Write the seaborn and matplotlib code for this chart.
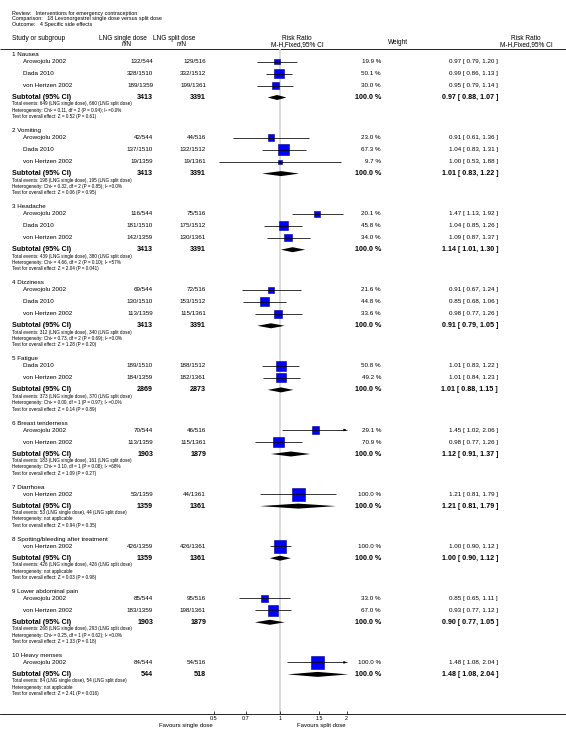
import numpy as np
import pandas as pd
import matplotlib
matplotlib.use("Agg")
import matplotlib.pyplot as plt
import seaborn as sns

sns.set_theme(style="white")
plt.rcParams["font.family"] = ["Liberation Sans", "DejaVu Sans"]

# ---------------- data ----------------
title_lines = [
    "Review:   Interventions for emergency contraception",
    "Comparison:   18 Levonorgestrel single dose versus split dose",
    "Outcome:   4 Specific side effects",
]
groups = ["1 Nausea", "2 Vomiting", "3 Headache", "4 Dizziness", "5 Fatigue",
          "6 Breast tenderness", "7 Diarrhoea", "8 Spotting/bleeding after treatment",
          "9 Lower abdominal pain", "10 Heavy menses"]
study_group = [0, 0, 0, 1, 1, 1, 2, 2, 2, 3, 3, 3, 4, 4, 5, 5, 6, 7, 8, 8, 9]
study_names = ["Arowojolu 2002", "Dada 2010", "von Hertzen 2002",
               "Arowojolu 2002", "Dada 2010", "von Hertzen 2002",
               "Arowojolu 2002", "Dada 2010", "von Hertzen 2002",
               "Arowojolu 2002", "Dada 2010", "von Hertzen 2002",
               "Dada 2010", "von Hertzen 2002",
               "Arowojolu 2002", "von Hertzen 2002",
               "von Hertzen 2002",
               "von Hertzen 2002",
               "Arowojolu 2002", "von Hertzen 2002",
               "Arowojolu 2002"]
single_events = [132, 328, 189, 42, 137, 19, 116, 181, 142, 69, 130, 113, 189, 184, 70, 113, 53, 426, 85, 183, 84]
single_total = [544, 1510, 1359, 544, 1510, 1359, 544, 1510, 1359, 544, 1510, 1359, 1510, 1359, 544, 1359, 1359, 1359, 544, 1359, 544]
split_events = [129, 332, 199, 44, 132, 19, 75, 175, 130, 72, 153, 115, 188, 182, 46, 115, 44, 426, 95, 198, 54]
split_total = [516, 1512, 1361, 516, 1512, 1361, 516, 1512, 1361, 516, 1512, 1361, 1512, 1361, 516, 1361, 1361, 1361, 516, 1361, 516]
weights = [19.9, 50.1, 30.0, 23.0, 67.3, 9.7, 20.1, 45.8, 34.0, 21.6, 44.8, 33.6, 50.8, 49.2, 29.1, 70.9, 100.0, 100.0, 33.0, 67.0, 100.0]
rr = [0.97, 0.99, 0.95, 0.91, 1.04, 1.00, 1.47, 1.04, 1.09, 0.91, 0.85, 0.98, 1.01, 1.01, 1.45, 0.98, 1.21, 1.00, 0.85, 0.93, 1.48]
rr_lo = [0.79, 0.86, 0.79, 0.61, 0.83, 0.53, 1.13, 0.85, 0.87, 0.67, 0.68, 0.77, 0.83, 0.84, 1.02, 0.77, 0.81, 0.90, 0.65, 0.77, 1.08]
rr_hi = [1.20, 1.13, 1.14, 1.36, 1.31, 1.88, 1.92, 1.26, 1.37, 1.24, 1.06, 1.26, 1.22, 1.23, 2.06, 1.26, 1.79, 1.12, 1.11, 1.12, 2.04]

sub_n_single = [3413, 3413, 3413, 3413, 2869, 1903, 1359, 1359, 1903, 544]
sub_n_split = [3391, 3391, 3391, 3391, 2873, 1879, 1361, 1361, 1879, 518]
sub_rr = [0.97, 1.01, 1.14, 0.91, 1.01, 1.12, 1.21, 1.00, 0.90, 1.48]
sub_lo = [0.88, 0.83, 1.01, 0.79, 0.88, 0.91, 0.81, 0.90, 0.77, 1.08]
sub_hi = [1.07, 1.22, 1.30, 1.05, 1.15, 1.37, 1.79, 1.12, 1.05, 2.04]
total_ev_single = [649, 198, 439, 312, 373, 183, 53, 426, 268, 84]
total_ev_split = [660, 195, 380, 340, 370, 161, 44, 426, 293, 54]
heterogeneity = [
    "Chi² = 0.11, df = 2 (P = 0.94); I² =0.0%",
    "Chi² = 0.32, df = 2 (P = 0.85); I² =0.0%",
    "Chi² = 4.66, df = 2 (P = 0.10); I² =57%",
    "Chi² = 0.73, df = 2 (P = 0.69); I² =0.0%",
    "Chi² = 0.00, df = 1 (P = 0.97); I² =0.0%",
    "Chi² = 3.10, df = 1 (P = 0.08); I² =68%",
    "not applicable",
    "not applicable",
    "Chi² = 0.25, df = 1 (P = 0.62); I² =0.0%",
    "not applicable",
]
overall_effect = ["Z = 0.52 (P = 0.61)", "Z = 0.06 (P = 0.95)", "Z = 2.04 (P = 0.041)",
                  "Z = 1.28 (P = 0.20)", "Z = 0.14 (P = 0.89)", "Z = 1.09 (P = 0.27)",
                  "Z = 0.94 (P = 0.35)", "Z = 0.03 (P = 0.98)", "Z = 1.33 (P = 0.18)",
                  "Z = 2.41 (P = 0.016)"]
tick_values = [0.5, 0.7, 1, 1.5, 2]
tick_labels = ["0.5", "0.7", "1", "1.5", "2"]
favours_left = "Favours single dose"
favours_right = "Favours split dose"

# ---------------- layout (pixels) ----------------
W, H = 566, 744
X_ONE = 280.0
PX_PER_DOUBLING = 66.5
CLIP_HI = 2.0
Y0 = 54.5
STEP = 12.0
D_FIRST = 7.0
D_SUB = 12.0
D_FN1 = 6.5
FN_STEP = 6.3
GAP = 14.0
AXIS_Y = 714.0
HEADER_LINE_Y = 49.0

X_LEFT = 11.5
X_STUDY = 23.0
X_N1 = 153.0
X_N2 = 206.0
X_W = 381.0
X_RR = 498.0

FS_TOP = 3.9
FS_HEAD = 4.7
FS_ROW = 4.5
FS_SUB = 5.1
FS_FN = 3.35
FS_TICK = 3.9
FS_FAV = 4.3

# compute row positions
study_y = []
group_y, sub_y, fn_y = [], [], []
y = Y0
for g in range(len(groups)):
    group_y.append(y)
    idx = [i for i, gg in enumerate(study_group) if gg == g]
    yy = y + D_FIRST
    for k, i in enumerate(idx):
        study_y.append(yy + k * STEP)
    last = yy + (len(idx) - 1) * STEP
    s = last + D_SUB
    sub_y.append(s)
    f = [s + D_FN1 + j * FN_STEP for j in range(3)]
    fn_y.append(f)
    y = f[-1] + GAP

fig = plt.figure(figsize=(W / 100, H / 100), dpi=100)
ax0 = fig.add_axes([0, 0, 1, 1])
ax0.set_xlim(0, W)
ax0.set_ylim(H, 0)
ax0.axis("off")

fax = fig.add_axes([0, 0, 1, 1], facecolor="none")
fax.set_xscale("log", base=2)
fax.set_xlim(2 ** (-X_ONE / PX_PER_DOUBLING), 2 ** ((W - X_ONE) / PX_PER_DOUBLING))
fax.set_ylim(H, 0)
for sp in ["top", "left", "right"]:
    fax.spines[sp].set_visible(False)
fax.spines["bottom"].set_position(("data", AXIS_Y))
fax.spines["bottom"].set_linewidth(0.6)
fax.spines["bottom"].set_color("black")
fax.set_xticks(tick_values)
fax.set_xticklabels(tick_labels)
fax.xaxis.set_minor_locator(matplotlib.ticker.NullLocator())
fax.tick_params(axis="x", direction="in", length=2, width=0.5, pad=1.5,
                labelsize=FS_TICK, bottom=True, colors="black")
fax.set_yticks([])
fax.grid(False)

# reference line
fax.vlines(1, HEADER_LINE_Y, AXIS_Y, color="#d8d8d8", lw=1.3, zorder=0)

# CI lines
lo_arr = np.array(rr_lo)
hi_arr = np.array(rr_hi)
fax.hlines(study_y, lo_arr, np.minimum(hi_arr, CLIP_HI), color="black", lw=0.55, zorder=3)
clipped = hi_arr > CLIP_HI
if clipped.any():
    for yy_ in np.array(study_y)[clipped]:
        fax.annotate("", xy=(CLIP_HI, yy_), xytext=(CLIP_HI * 0.97, yy_),
                     arrowprops=dict(arrowstyle="-|>", color="black", lw=0.5,
                                     mutation_scale=3.5, shrinkA=0, shrinkB=0), zorder=3)

# squares
df = pd.DataFrame({"rr": rr, "y": study_y, "w": weights})
sns.scatterplot(data=df, x="rr", y="y", size="w", sizes=(0, 87.6), size_norm=(0, 100),
                marker="s", color="#0000ff", edgecolor="#00008b", linewidth=0.4,
                legend=False, ax=fax, zorder=2)
fax.set_xlabel("")
fax.set_ylabel("")

# diamonds
for g in range(len(groups)):
    yc = sub_y[g]
    fax.fill([sub_lo[g], sub_rr[g], sub_hi[g], sub_rr[g]],
             [yc, yc - 2.5, yc, yc + 2.5], color="black", lw=0, zorder=3)

# ---------------- text ----------------
def t(x, y, s, fs, ha="left", bold=False, va="center"):
    ax0.text(x, y, s, fontsize=fs, ha=ha, va=va, color="black",
             fontweight="bold" if bold else "normal")

for i, line in enumerate(title_lines):
    t(X_LEFT, 13.0 + i * 5.8, line, FS_TOP)

t(X_LEFT, 39, "Study or subgroup", FS_HEAD)
t(123, 39, "LNG single dose", FS_HEAD, ha="center")
t(127, 44.5, "n/N", FS_HEAD, ha="center")
t(174, 39, "LNG split dose", FS_HEAD, ha="center")
t(182, 44.5, "n/N", FS_HEAD, ha="center")
t(297, 39, "Risk Ratio", FS_HEAD, ha="center")
t(297, 44.5, "M-H,Fixed,95% CI", FS_HEAD, ha="center")
t(398, 42, "Weight", FS_HEAD, ha="center")
t(526, 39, "Risk Ratio", FS_HEAD, ha="center")
t(526, 44.5, "M-H,Fixed,95% CI", FS_HEAD, ha="center")
ax0.hlines(HEADER_LINE_Y, 0, W, color="black", lw=0.6)

for i in range(len(study_names)):
    yy = study_y[i]
    t(X_STUDY, yy, study_names[i], FS_ROW)
    t(X_N1, yy, f"{single_events[i]}/{single_total[i]}", FS_ROW, ha="right")
    t(X_N2, yy, f"{split_events[i]}/{split_total[i]}", FS_ROW, ha="right")
    t(X_W, yy, f"{weights[i]:.1f} %", FS_ROW, ha="right")
    t(X_RR, yy, f"{rr[i]:.2f} [ {rr_lo[i]:.2f}, {rr_hi[i]:.2f} ]", FS_ROW, ha="right")

for g in range(len(groups)):
    t(X_LEFT, group_y[g], groups[g], FS_ROW)
    t(X_LEFT, sub_y[g], "Subtotal (95% CI)", FS_SUB, bold=True)
    t(X_N1, sub_y[g], f"{sub_n_single[g]}", FS_SUB, ha="right", bold=True)
    t(X_N2, sub_y[g], f"{sub_n_split[g]}", FS_SUB, ha="right", bold=True)
    t(X_W, sub_y[g], "100.0 %", FS_SUB, ha="right", bold=True)
    t(X_RR, sub_y[g], f"{sub_rr[g]:.2f} [ {sub_lo[g]:.2f}, {sub_hi[g]:.2f} ]", FS_SUB,
      ha="right", bold=True)
    f = fn_y[g]
    t(X_LEFT, f[0], f"Total events: {total_ev_single[g]} (LNG single dose), "
                    f"{total_ev_split[g]} (LNG split dose)", FS_FN)
    t(X_LEFT, f[1], f"Heterogeneity: {heterogeneity[g]}", FS_FN)
    t(X_LEFT, f[2], f"Test for overall effect: {overall_effect[g]}", FS_FN)

t(213, 725, favours_left, FS_FAV, ha="right")
t(297, 725, favours_right, FS_FAV, ha="left")

fig.savefig("out.png", dpi=100)
